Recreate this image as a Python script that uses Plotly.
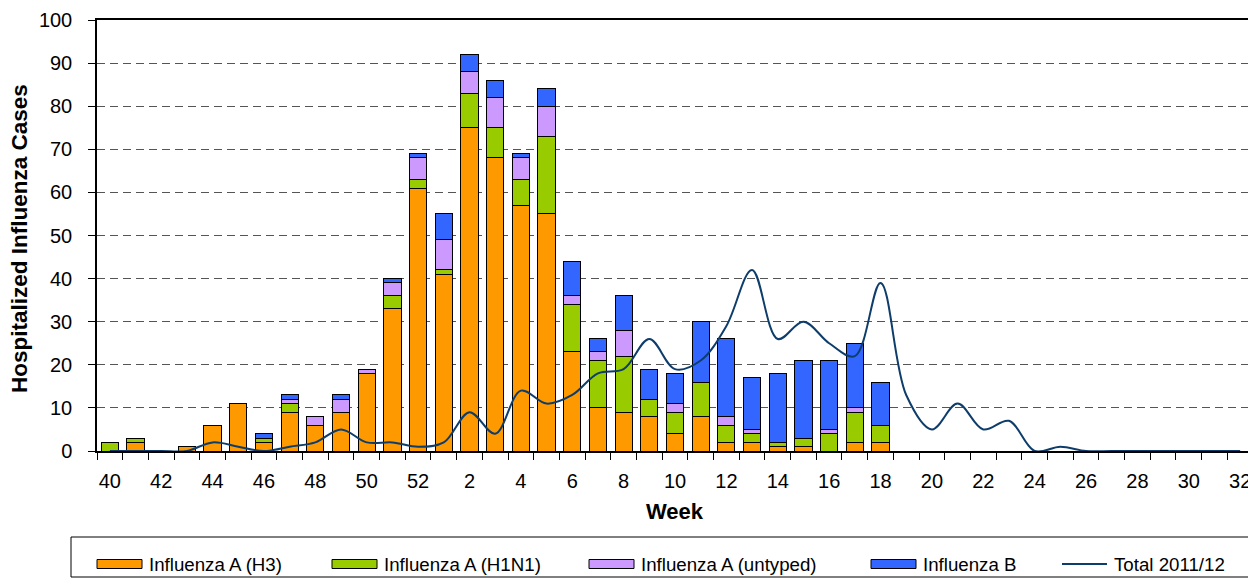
import plotly.graph_objects as go

weeks = [str(w) for w in range(40, 53)] + [str(w) for w in range(1, 33)]

h3 = [0, 2, 0, 1, 6, 11, 2, 9, 6, 9, 18, 33, 61,
      41, 75, 68, 57, 55, 23, 10, 9, 8, 4, 8, 2, 2, 1, 1, 0, 2, 2,
      0, 0, 0, 0, 0, 0, 0, 0, 0, 0, 0, 0, 0, 0]
h1n1 = [2, 1, 0, 0, 0, 0, 1, 2, 0, 0, 0, 3, 2,
        1, 8, 7, 6, 18, 11, 11, 13, 4, 5, 8, 4, 2, 1, 2, 4, 7, 4,
        0, 0, 0, 0, 0, 0, 0, 0, 0, 0, 0, 0, 0, 0]
untyped = [0, 0, 0, 0, 0, 0, 0, 1, 2, 3, 1, 3, 5,
           7, 5, 7, 5, 7, 2, 2, 6, 0, 2, 0, 2, 1, 0, 0, 1, 1, 0,
           0, 0, 0, 0, 0, 0, 0, 0, 0, 0, 0, 0, 0, 0]
flu_b = [0, 0, 0, 0, 0, 0, 1, 1, 0, 1, 0, 1, 1,
         6, 4, 4, 1, 4, 8, 3, 8, 7, 7, 14, 18, 12, 16, 18, 16, 15, 10,
         0, 0, 0, 0, 0, 0, 0, 0, 0, 0, 0, 0, 0, 0]
total_2011_12 = [0, 0, 0, 0, 2, 1, 0, 1, 2, 5, 2, 2, 1,
                 2, 9, 4, 14, 11, 13, 18, 19, 26, 19, 21, 29, 42, 26, 30, 25, 22, 39,
                 13, 5, 11, 5, 7, 0, 1, 0, 0, 0, 0, 0, 0, 0]

tick_text = [w if i % 2 == 0 else "" for i, w in enumerate(weeks)]

series = [
    ("Influenza A (H3)", h3, "#FF9900"),
    ("Influenza A (H1N1)", h1n1, "#99CC00"),
    ("Influenza A (untyped)", untyped, "#CC99FF"),
    ("Influenza B", flu_b, "#3366FF"),
]
line_color = "#0E3D6B"
FONT = "Arial, Liberation Sans, sans-serif"

fig = go.Figure()
for name, vals, col in series:
    fig.add_trace(go.Bar(x=weeks, y=vals, name=name,
                         marker=dict(color=col, line=dict(color="black", width=1))))
fig.add_trace(go.Scatter(x=weeks, y=total_2011_12, name="Total 2011/12", mode="lines",
                         line=dict(color=line_color, width=2, shape="spline", smoothing=1)))

# page offset (browser body margin) and plot area in page pixels
OFF = 8
FIG_W, FIG_H = 1256 - OFF, 586 - OFF
L, R, T, B = 97, 1253, 20, 451
W, H = R - L, B - T
def px(x):
    return (x - L) / W
def py(y):
    return (B - y) / H

shapes = []
annotations = []
# custom legend box
shapes.append(dict(type="rect", xref="paper", yref="paper", x0=px(71), x1=px(1250),
                   y0=py(577), y1=py(537), line=dict(color="black", width=1),
                   fillcolor="white", layer="below"))
leg_items = [(97, "Influenza A (H3)", "#FF9900"),
             (332, "Influenza A (H1N1)", "#99CC00"),
             (589, "Influenza A (untyped)", "#CC99FF"),
             (871, "Influenza B", "#3366FF")]
yc = 564
for x0, name, col in leg_items:
    shapes.append(dict(type="rect", xref="paper", yref="paper", x0=px(x0), x1=px(x0 + 45),
                       y0=py(yc + 4.5), y1=py(yc - 4.5), fillcolor=col,
                       line=dict(color="black", width=1)))
    annotations.append(dict(xref="paper", yref="paper", x=px(x0 + 50), y=py(yc),
                            text=name, showarrow=False, xanchor="left", yanchor="middle",
                            font=dict(family=FONT, size=18.7, color="black")))
shapes.append(dict(type="line", xref="paper", yref="paper", x0=px(1062), x1=px(1107),
                   y0=py(yc), y1=py(yc), line=dict(color=line_color, width=2)))
annotations.append(dict(xref="paper", yref="paper", x=px(1112), y=py(yc),
                        text="Total 2011/12", showarrow=False, xanchor="left", yanchor="middle",
                        font=dict(family=FONT, size=18.7, color="black")))

# axis titles as annotations for exact placement
annotations.append(dict(xref="paper", yref="paper", x=px(675), y=py(512),
                        text="<b>Week</b>", showarrow=False, xanchor="center", yanchor="middle",
                        font=dict(family=FONT, size=22, color="black")))
annotations.append(dict(xref="paper", yref="paper", x=px(20), y=py(239),
                        text="<b>Hospitalized Influenza Cases</b>", showarrow=False,
                        textangle=-90, xanchor="center", yanchor="middle",
                        font=dict(family=FONT, size=22.5, color="black")))

fig.update_layout(
    width=FIG_W, height=FIG_H,
    margin=dict(l=L - OFF, r=FIG_W - (R - OFF), t=T - OFF, b=FIG_H - (B - OFF)),
    barmode="stack", bargap=0.33,
    plot_bgcolor="white", paper_bgcolor="white",
    showlegend=False,
    font=dict(family=FONT, color="black"),
    shapes=shapes, annotations=annotations,
)
fig.update_xaxes(type="category", categoryorder="array", categoryarray=weeks,
                 tickmode="array", tickvals=weeks, ticktext=tick_text, tickangle=0,
                 tickson="boundaries", ticks="outside", ticklen=7, tickcolor="black",
                 showline=True, linecolor="black", linewidth=1.5, mirror=True,
                 showgrid=False, tickfont=dict(size=20, family=FONT),
                 ticklabelstandoff=11, automargin=False)
fig.update_yaxes(range=[0, 100], dtick=10, ticks="outside", ticklen=7, tickcolor="black",
                 showline=True, linecolor="black", linewidth=1.5, mirror=True,
                 showgrid=True, gridcolor="#555555", griddash="8px,5px", gridwidth=1,
                 zeroline=False, tickfont=dict(size=20, family=FONT),
                 ticklabelstandoff=12, automargin=False)

fig.write_html("out.html")
